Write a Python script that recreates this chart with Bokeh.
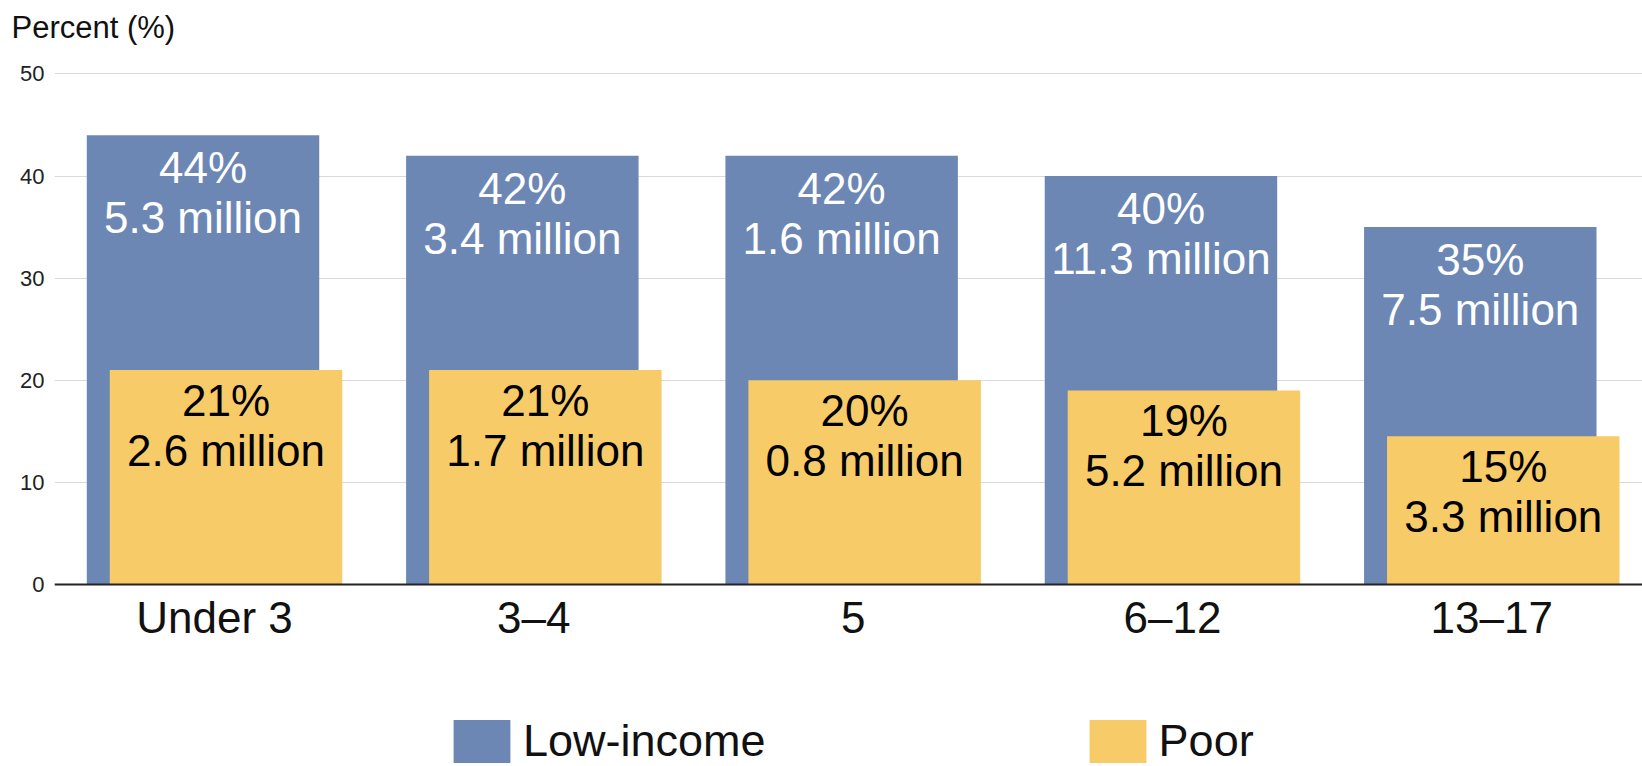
from bokeh.plotting import figure
from bokeh.models import (Range1d, FixedTicker, ColumnDataSource, Legend, LegendItem)
from bokeh.core.properties import value
from bokeh.embed import file_html
from bokeh.resources import INLINE

# ---- data ----
categories = ["Under 3", "3–4", "5", "6–12", "13–17"]
low_income = [44, 42, 42, 40, 35]
poor = [21, 21, 20, 19, 14.5]
low_income_pct = ["44%", "42%", "42%", "40%", "35%"]
low_income_count = ["5.3 million", "3.4 million", "1.6 million", "11.3 million", "7.5 million"]
poor_pct = ["21%", "21%", "20%", "19%", "15%"]
poor_count = ["2.6 million", "1.7 million", "0.8 million", "5.2 million", "3.3 million"]
y_ticks = [0, 10, 20, 30, 40, 50]

FONT = "Liberation Sans"
BLUE = "#6d87b5"
YELLOW = "#f7cb68"

idx = list(range(len(categories)))
off = 0.036
bw = 0.728

src_low = ColumnDataSource(dict(x=[i - off for i in idx], top=low_income,
                                pct=low_income_pct, cnt=low_income_count))
src_poor = ColumnDataSource(dict(x=[i + off for i in idx], top=poor,
                                 pct=poor_pct, cnt=poor_count))

p = figure(width=1642, height=766, output_backend="svg", toolbar_location=None,
           x_range=Range1d(-0.5011, 4.472), y_range=Range1d(-17.84, 52.2),
           min_border_left=54, min_border_right=0, min_border_bottom=0,
           min_border_top=0)

p.outline_line_color = None
p.background_fill_color = "white"

# title as y-axis caption
p.title.text = "Percent (%)"
p.title.text_font = FONT
p.title.text_font_size = "31px"
p.title.text_font_style = "normal"
p.title.text_color = "#111111"
p.title.align = "left"
p.title.offset = -43
p.title.standoff = 14

# grid
p.xgrid.grid_line_color = None
p.ygrid.ticker = FixedTicker(ticks=y_ticks)
p.ygrid.grid_line_color = "#d9d9d9"
p.ygrid.grid_line_width = 1

# y axis
p.yaxis.ticker = FixedTicker(ticks=y_ticks)
p.yaxis.axis_line_color = None
p.yaxis.major_tick_line_color = None
p.yaxis.minor_tick_line_color = None
p.yaxis.major_tick_out = 0
p.yaxis.major_tick_in = 0
p.yaxis.major_label_text_font = FONT
p.yaxis.major_label_text_font_size = "22px"
p.yaxis.major_label_text_color = "#222222"
p.yaxis.major_label_standoff = 10

# x axis at y = 0
p.xaxis.fixed_location = 0
p.xaxis.ticker = FixedTicker(ticks=idx)
p.xaxis.major_label_overrides = {i: c for i, c in zip(idx, categories)}
p.xaxis.axis_line_color = "#222222"
p.xaxis.axis_line_width = 2
p.xaxis.major_tick_line_color = None
p.xaxis.minor_tick_line_color = None
p.xaxis.major_tick_out = 0
p.xaxis.major_tick_in = 0
p.xaxis.major_label_text_font = FONT
p.xaxis.major_label_text_font_size = "44px"
p.xaxis.major_label_text_color = "#111111"
p.xaxis.major_label_standoff = 9

r_low = p.vbar(x="x", top="top", bottom=0, width=bw, source=src_low,
               fill_color=BLUE, line_color=None)
r_poor = p.vbar(x="x", top="top", bottom=0, width=bw, source=src_poor,
                fill_color=YELLOW, line_color=None)

# bar labels
p.text(x="x", y="top", text="pct", source=src_low, text_align="center",
       text_baseline="alphabetic", y_offset=32.5, text_font=value(FONT),
       text_font_size="44px", text_color="white")
p.text(x="x", y="top", text="cnt", source=src_low, text_align="center",
       text_baseline="alphabetic", y_offset=82.5, text_font=value(FONT),
       text_font_size="44px", text_color="white")
p.text(x="x", y="top", text="pct", source=src_poor, text_align="center",
       text_baseline="alphabetic", y_offset=30, text_font=value(FONT),
       text_font_size="44px", text_color="black")
p.text(x="x", y="top", text="cnt", source=src_poor, text_align="center",
       text_baseline="alphabetic", y_offset=80.5, text_font=value(FONT),
       text_font_size="44px", text_color="black")

legend = Legend(items=[LegendItem(label="Low-income", renderers=[r_low]),
                       LegendItem(label="Poor", renderers=[r_poor])],
                orientation="horizontal", location=(392, -2),
                glyph_width=71, glyph_height=54, label_standoff=6, spacing=316,
                padding=0, margin=0, border_line_color=None,
                background_fill_alpha=0,
                label_text_font=FONT, label_text_font_size="45px",
                label_text_baseline="alphabetic", label_text_color="#111111")
p.add_layout(legend, "center")

open("out.html", "w").write(file_html(p, INLINE))
